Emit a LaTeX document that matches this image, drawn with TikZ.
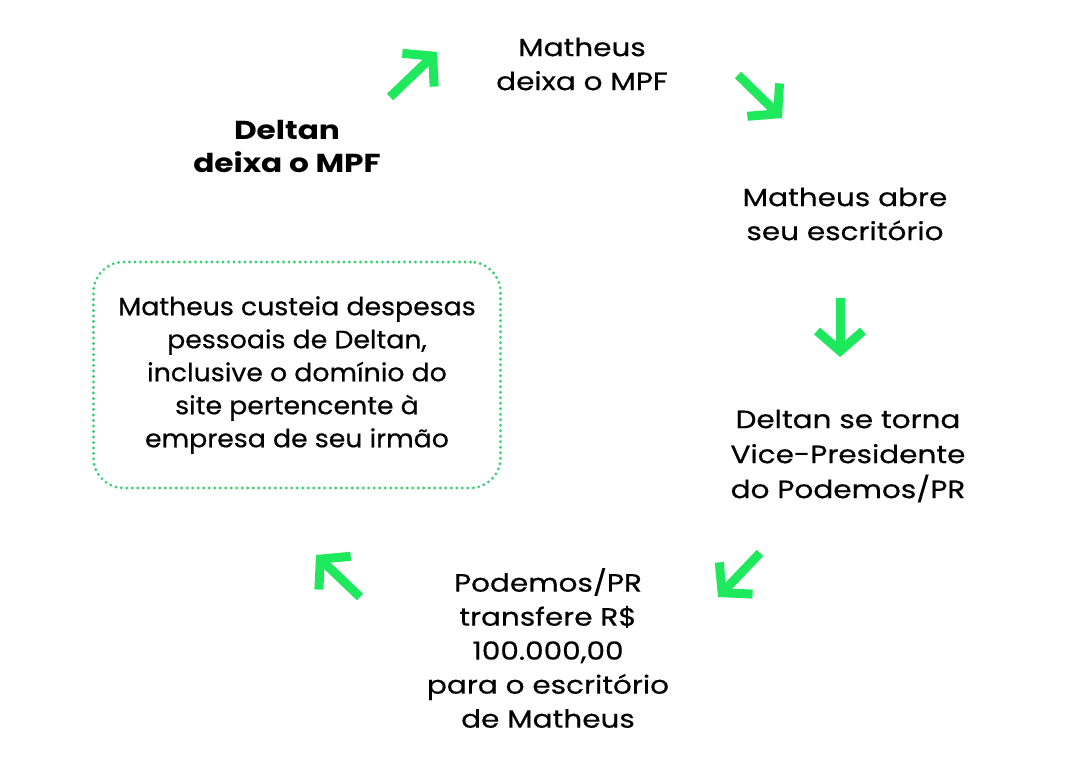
\documentclass[tikz,border=0pt]{standalone}
\usepackage{fontspec}
\setmainfont{Poppins}[FakeStretch=1.18,UprightFeatures={FakeBold=0.5},BoldFeatures={FakeStretch=1.2}]
\newfontfamily\fontecaixa{Poppins}[FakeStretch=1.07,FakeBold=0.5]
\usetikzlibrary{arrows.meta}
\definecolor{verde}{RGB}{30,232,92}
\definecolor{verdeclaro}{RGB}{60,208,118}

\begin{document}
\begin{tikzpicture}[x=1pt,y=-1pt,
  texto/.style={align=center,font=\fontsize{25}{34}\selectfont},
  seta/.style={draw=verde,line width=9pt,-{Straight Barb[length=20pt,width=46pt]}},
  caixa/.style={draw=verdeclaro,line width=3.2pt,line cap=round,dash pattern=on 0pt off 5.5pt,rounded corners=30pt}]
\useasboundingbox (0,0) rectangle (1084,760);

\node[texto] (matheus) at (582,64) {Matheus\\deixa o MPF};
\node[texto,font=\fontsize{26}{33}\selectfont\bfseries] (deltan) at (287,146) {Deltan\\deixa o MPF};
\node[texto] (escritorio) at (845,214) {Matheus abre\\seu escritório};
\node[texto,font=\fontsize{25}{35}\selectfont] (vice) at (848,456) {Deltan se torna\\Vice-Presidente\\do Podemos/PR};
\node[texto] (podemos) at (548,648) {Podemos/PR\\transfere R\$\\100.000,00\\para o escritório\\de Matheus};
\node[texto,caixa,font=\fontsize{25}{33}\fontecaixa,minimum width=407pt,minimum height=226pt] (custeio) at (297,375)
  {Matheus custeia despesas\\pessoais de Deltan,\\inclusive o domínio do\\site pertencente à\\empresa de seu irmão};

\coordinate (s1a) at (390,97);
\coordinate (s1b) at (437,52);
\coordinate (s2a) at (738,75);
\coordinate (s2b) at (782,118);
\coordinate (s3a) at (840,298);
\coordinate (s3b) at (840,357);
\coordinate (s4a) at (760,553);
\coordinate (s4b) at (718,597);
\coordinate (s5a) at (360,597);
\coordinate (s5b) at (316,555);

\path[seta] (s1a) -- (s1b);
\path[seta] (s2a) -- (s2b);
\path[seta] (s3a) -- (s3b);
\path[seta] (s4a) -- (s4b);
\path[seta] (s5a) -- (s5b);
\end{tikzpicture}
\end{document}
